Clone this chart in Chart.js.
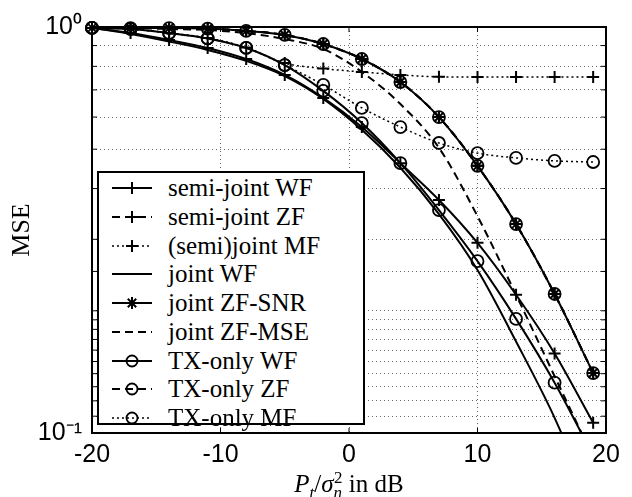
<!DOCTYPE html>
<html>
<head>
<meta charset="utf-8">
<script src="https://cdn.jsdelivr.net/npm/chart.js@4.4.1/dist/chart.umd.min.js"></script>
<style>
  body { margin: 0; background: #fff; }
  #wrap { position: relative; width: 632px; height: 497px; }
  #legend {
    position: absolute; left: 97px; top: 171px; width: 264px; height: 250px;
    border: 2px solid #000; background: #fff;
    font-family: 'Liberation Serif', 'Times New Roman', serif; font-size: 25px; color: #000;
  }
  .row { position: absolute; left: 0; width: 100%; height: 28px; line-height: 28px; white-space: nowrap; }
  .row svg { position: absolute; left: 13px; top: 4px; }
  .row span { position: absolute; left: 69px; top: 0; }
  #xtitle {
    position: absolute; left: 249px; width: 200px; top: 469px; text-align: center;
    font-family: 'Liberation Serif', 'Times New Roman', serif; font-size: 25px; line-height: 30px; color: #000;
  }
  #xtitle .sb { position: relative; top: 6px; font-size: 17px; }
  #xtitle .sp { position: relative; top: -9px; font-size: 17px; margin-left: -8px; }
</style>
</head>
<body>
<div id="wrap">
  <canvas id="chart" width="632" height="497"></canvas>
  <div id="legend"></div>
  <div id="xtitle"><i>P</i><i class="sb">t</i>/<i>σ</i><i class="sb">n</i><span class="sp">2</span> in dB</div>
</div>
<script>
// SNR grid (markers every 3 dB)
const snrDb = [-20, -17, -14, -11, -8, -5, -2, 1, 4, 7, 10, 13, 16, 19];

// MSE values
// semi-joint ZF, joint ZF-SNR and TX-only ZF lie on top of each other
const mseZF        = [0.995, 0.994, 0.994, 0.991, 0.978, 0.956, 0.908, 0.834, 0.732, 0.600, 0.455, 0.327, 0.220, 0.1405];
const mseSemiWF    = [0.995, 0.966, 0.929, 0.888, 0.834, 0.762, 0.669, 0.567, 0.462, 0.375, 0.294, 0.219, 0.157, 0.106];
const mseJointMF   = [0.995, 0.989, 0.966, 0.940, 0.890, 0.815, 0.790, 0.775, 0.762, 0.754, 0.753, 0.753, 0.753, 0.753];
const mseJointWF   = [0.995, 0.961, 0.921, 0.878, 0.825, 0.757, 0.665, 0.558, 0.450, 0.346, 0.252, 0.168, 0.109, 0.065];
const mseJointZFMSE = [0.995, 0.994, 0.989, 0.983, 0.966, 0.934, 0.883, 0.775, 0.646, 0.504, 0.342, 0.219, 0.138, 0.087];
const mseTxWF      = [0.995, 0.989, 0.966, 0.937, 0.888, 0.806, 0.696, 0.580, 0.462, 0.354, 0.265, 0.191, 0.133, 0.088];
const mseTxMF      = [0.995, 0.989, 0.966, 0.937, 0.888, 0.806, 0.720, 0.632, 0.567, 0.518, 0.489, 0.476, 0.468, 0.465];

const xTicks = [-20, -10, 0, 10, 20];

const SOLID = [];
const DASHED = [8, 5];
const DOTTED = [2, 3];

function series(label, values, dash, marker) {
    return {
        label: label,
        data: snrDb.map((x, i) => ({ x: x, y: values[i] })),
        borderColor: '#000',
        borderWidth: dash === DOTTED ? 1.5 : 2,
        borderDash: dash,
        pointStyle: marker || 'circle',
        pointRadius: marker ? 6 : 0,
        pointBorderWidth: marker === 'circle' ? 1.8 : 2,
        pointBorderColor: '#000',
        pointBackgroundColor: 'rgba(0,0,0,0)',
        cubicInterpolationMode: 'monotone',
        clip: { left: 10, top: 10, right: 10, bottom: 0 }
    };
}

const datasets = [
    series('semi-joint WF', mseSemiWF, SOLID, 'cross'),
    series('semi-joint ZF', mseZF, DASHED, 'cross'),
    series('(semi)joint MF', mseJointMF, DOTTED, 'cross'),
    series('joint WF', mseJointWF, SOLID, null),
    series('joint ZF-SNR', mseZF, SOLID, 'star'),
    series('joint ZF-MSE', mseJointZFMSE, DASHED, null),
    series('TX-only WF', mseTxWF, SOLID, 'circle'),
    series('TX-only ZF', mseZF, DASHED, 'circle'),
    series('TX-only MF', mseTxMF, DOTTED, 'circle')
];

const SUP = { '0': '⁰', '1': '¹', '2': '²', '-': '⁻' };
function powerLabel(value) {
    const e = Math.log10(value);
    if (Math.abs(e - Math.round(e)) > 1e-6) return '';
    return '10' + String(Math.round(e)).split('').map(c => SUP[c]).join('');
}

// axes frame and inward tick marks
const framePlugin = {
    id: 'frame',
    beforeDatasetsDraw(chart) {
        const { ctx, chartArea: a, scales } = chart;
        ctx.save();
        ctx.strokeStyle = '#000';
        ctx.lineWidth = 2;
        ctx.strokeRect(a.left, a.top, a.right - a.left, a.bottom - a.top);
        ctx.lineWidth = 1;
        ctx.beginPath();
        scales.y.ticks.forEach((t, i) => {
            const py = scales.y.getPixelForTick(i);
            ctx.moveTo(a.left, py); ctx.lineTo(a.left + 5, py);
            ctx.moveTo(a.right, py); ctx.lineTo(a.right - 5, py);
        });
        scales.x.ticks.forEach((t, i) => {
            const px = scales.x.getPixelForTick(i);
            ctx.moveTo(px, a.bottom); ctx.lineTo(px, a.bottom - 5);
            ctx.moveTo(px, a.top); ctx.lineTo(px, a.top + 5);
        });
        ctx.stroke();
        ctx.restore();
    }
};

const gridStyle = {
    color: '#666',
    lineWidth: 1,
    drawTicks: false
};
// in Chart.js v4 the grid line dash lives under "border"
const borderStyle = {
    display: false,
    dash: [1, 3]
};

const chart = new Chart(document.getElementById('chart'), {
    type: 'line',
    data: { datasets: datasets },
    options: {
        responsive: false,
        devicePixelRatio: 1,
        animation: false,
        layout: { padding: { top: 27, right: 26, left: 0, bottom: 0 } },
        plugins: {
            legend: { display: false },
            tooltip: { enabled: false }
        },
        scales: {
            x: {
                type: 'linear',
                min: -20,
                max: 20,
                afterBuildTicks: function(scale) {
                    scale.ticks = xTicks.map(v => ({ value: v }));
                },
                ticks: {
                    color: '#000',
                    padding: 7,
                    font: { family: "'Liberation Sans', Arial, sans-serif", size: 25 }
                },
                grid: gridStyle,
                border: borderStyle,
                afterFit: function(scale) { scale.height = 64; }
            },
            y: {
                type: 'logarithmic',
                min: 0.1,
                max: 1,
                ticks: {
                    color: '#000',
                    padding: 10,
                    autoSkip: false,
                    callback: powerLabel,
                    font: { family: "'Liberation Sans', Arial, sans-serif", size: 25 }
                },
                grid: gridStyle,
                border: borderStyle,
                title: {
                    display: true,
                    text: 'MSE',
                    color: '#000',
                    padding: { top: 7, bottom: 0 },
                    font: { family: "'Liberation Serif', 'Times New Roman', serif", size: 26 }
                },
                afterFit: function(scale) { scale.width = 92; }
            }
        }
    },
    plugins: [framePlugin]
});

// legend inside the plot, built from the datasets
function legendSymbol(ds) {
    const dash = ds.borderDash.length ? ' stroke-dasharray="' + ds.borderDash.join(' ') + '"' : '';
    let svg = '<svg width="44" height="20" xmlns="http://www.w3.org/2000/svg">' +
        '<line x1="0" y1="10" x2="40" y2="10" stroke="#000" stroke-width="' + ds.borderWidth + '"' + dash + '/>';
    if (ds.pointRadius > 0) {
        if (ds.pointStyle === 'circle') {
            svg += '<circle cx="20" cy="10" r="5.5" fill="none" stroke="#000" stroke-width="1.8"/>';
        } else {
            svg += '<path d="M14 10 H26 M20 4 V16" stroke="#000" stroke-width="2"/>';
            if (ds.pointStyle === 'star') {
                svg += '<path d="M15.8 5.8 L24.2 14.2 M24.2 5.8 L15.8 14.2" stroke="#000" stroke-width="2"/>';
            }
        }
    }
    return svg + '</svg>';
}

const legendEl = document.getElementById('legend');
chart.data.datasets.forEach((ds, i) => {
    const row = document.createElement('div');
    row.className = 'row';
    row.style.top = (1 + i * 28.75) + 'px';
    row.innerHTML = legendSymbol(ds) + '<span>' + ds.label + '</span>';
    legendEl.appendChild(row);
});
</script>
</body>
</html>
